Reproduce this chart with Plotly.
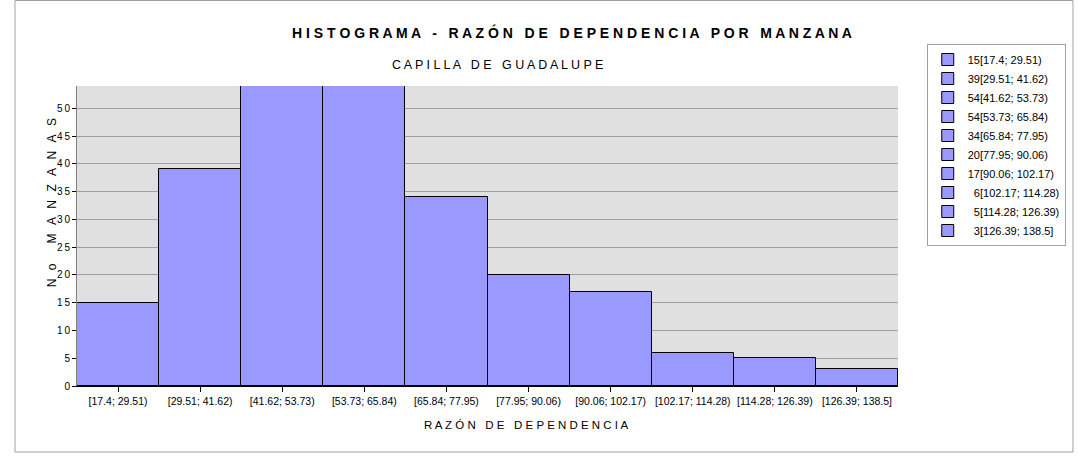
import plotly.graph_objects as go

intervals = ["[17.4; 29.51)", "[29.51; 41.62)", "[41.62; 53.73)", "[53.73; 65.84)",
             "[65.84; 77.95)", "[77.95; 90.06)", "[90.06; 102.17)", "[102.17; 114.28)",
             "[114.28; 126.39)", "[126.39; 138.5]"]
counts = [15, 39, 54, 54, 34, 20, 17, 6, 5, 3]
y_ticks = [0, 5, 10, 15, 20, 25, 30, 35, 40, 45, 50]

title_text = "HISTOGRAMA - RAZÓN DE DEPENDENCIA POR MANZANA"
subtitle_text = "CAPILLA DE GUADALUPE"
x_title = "RAZÓN DE DEPENDENCIA"
y_title = "No MANZANAS"


def spaced(s, sep=" "):
    return sep.join(list(s))


FONT = "Liberation Sans, Arial, sans-serif"
BAR = "#9999ff"
THIN = "\u2009"

fig = go.Figure()
for iv, c in zip(intervals, counts):
    label = f"{c}{iv}" if c >= 10 else f"\u2007{c}{iv}"
    fig.add_trace(go.Bar(
        x=[iv], y=[c], name=label,
        marker=dict(color=BAR, line=dict(color="#000000", width=1)),
        width=1.0,
    ))

fig.update_layout(
    width=1078, height=458,
    margin=dict(l=77, r=180, t=86, b=72),
    paper_bgcolor="white",
    plot_bgcolor="#e0e0e0",
    barmode="overlay",
    bargap=0,
    font=dict(family=FONT, size=11, color="#000000"),
    showlegend=True,
    legend=dict(
        x=1.035, y=1.14, xanchor="left", yanchor="top",
        bordercolor="#a0a0a0", borderwidth=1, bgcolor="white",
        font=dict(family=FONT, size=11, color="#000000"),
        tracegroupgap=0, itemwidth=30,
    ),
    xaxis=dict(
        type="category", categoryorder="array", categoryarray=intervals,
        tickangle=0, ticks="outside", ticklen=5, tickcolor="#000000",
        showline=True, linecolor="#000000", linewidth=1,
        showgrid=False, tickfont=dict(size=10.5),
    ),
    yaxis=dict(
        range=[0, 54], tickvals=y_ticks, ticktext=[spaced(str(v), THIN) for v in y_ticks],
        ticks="outside", ticklen=4, tickcolor="#000000",
        showline=True, linecolor="#808080", linewidth=1,
        showgrid=True, gridcolor="#a0a0a0", gridwidth=1,
        zeroline=False, tickfont=dict(size=10),
    ),
    annotations=[
        dict(text="<b>" + spaced(title_text) + "</b>", xref="paper", yref="paper",
             x=0.603, y=1.177, xanchor="center", yanchor="middle", showarrow=False,
             font=dict(size=14, family=FONT, color="#000000")),
        dict(text=spaced(subtitle_text), xref="paper", yref="paper",
             x=0.512, y=1.07, xanchor="center", yanchor="middle", showarrow=False,
             font=dict(size=12.5, family=FONT, color="#000000")),
        dict(text=spaced(x_title), xref="paper", yref="paper",
             x=0.547, y=-0.13, xanchor="center", yanchor="middle", showarrow=False,
             font=dict(size=11.5, family=FONT, color="#000000")),
        dict(text=spaced(y_title, "\u2002\u2009"), xref="paper", yref="paper",
             x=-0.03, y=0.61, xanchor="center", yanchor="middle", showarrow=False,
             textangle=-90, font=dict(size=12, family=FONT, color="#000000")),
    ],
    shapes=[
        dict(type="rect", xref="paper", yref="paper",
             x0=-0.0755, x1=1.2131, y0=-0.22, y1=1.285,
             line=dict(color="#a0a0a0", width=1), fillcolor="rgba(0,0,0,0)", layer="below"),
    ],
)

fig.write_html("out.html", config={"displayModeBar": False},
               post_script="document.body.style.margin='0';")
